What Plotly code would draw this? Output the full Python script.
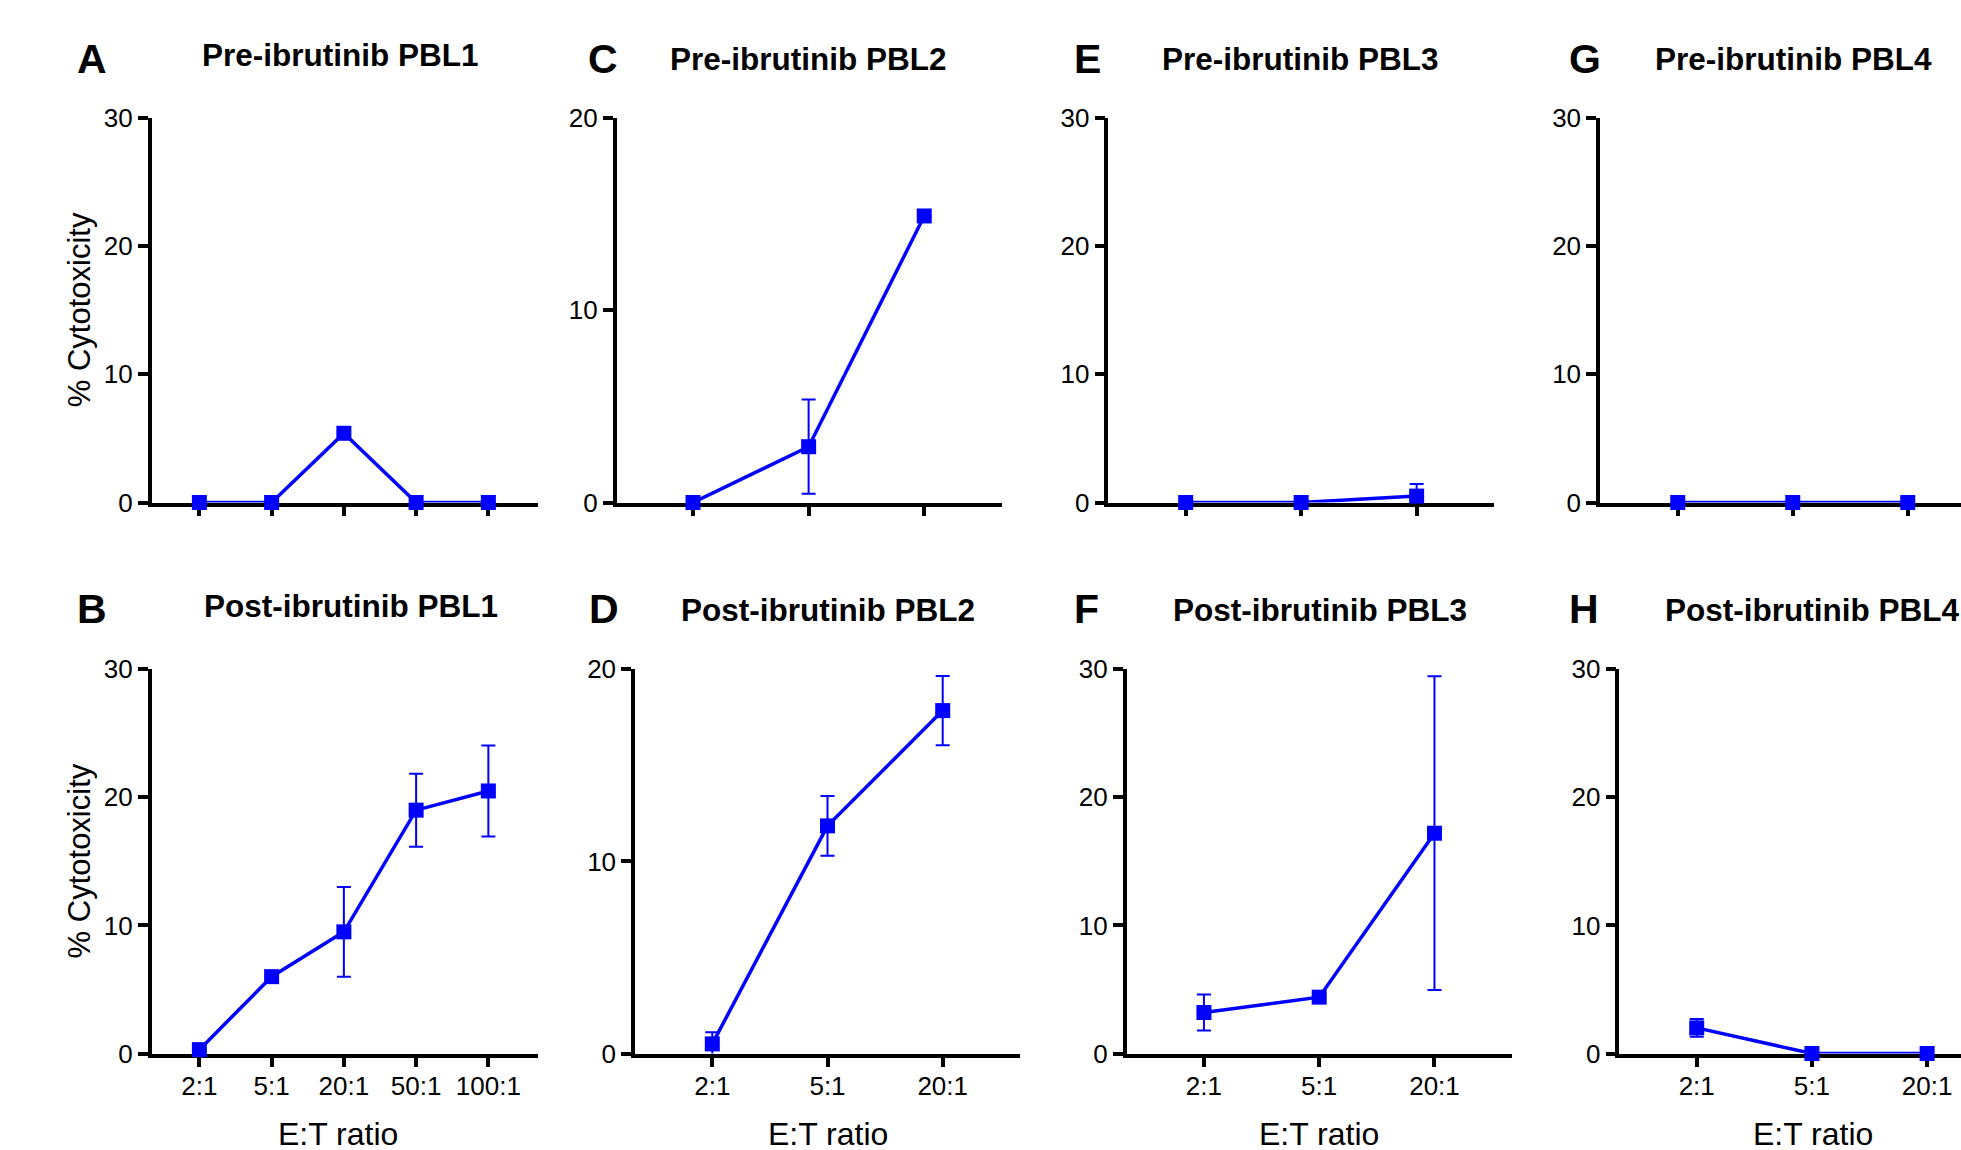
import plotly.graph_objects as go

W, H = 1961, 1150

# ---------------- data ----------------
cats5 = ["2:1", "5:1", "20:1", "50:1", "100:1"]
cats3 = ["2:1", "5:1", "20:1"]

pre_pbl1 = [0, 0, 5.4, 0, 0]
pre_pbl1_err = [0, 0, 0, 0, 0]
post_pbl1 = [0.3, 6.0, 9.5, 19.0, 20.5]
post_pbl1_err = [0, 0, 3.5, 2.85, 3.55]

pre_pbl2 = [0, 2.9, 14.9]
pre_pbl2_err = [0, 2.45, 0]
post_pbl2 = [0.5, 11.85, 17.85]
post_pbl2_err = [0.6, 1.55, 1.8]

pre_pbl3 = [0, 0, 0.5]
pre_pbl3_err = [0, 0, 0.95]
post_pbl3 = [3.2, 4.4, 17.2]
post_pbl3_err = [1.4, 0, 12.25]

pre_pbl4 = [0, 0, 0]
pre_pbl4_err = [0, 0, 0]
post_pbl4 = [2.0, 0, 0]
post_pbl4_err = [0.7, 0, 0]

panel_letters = ["A", "B", "C", "D", "E", "F", "G", "H"]
panel_titles = ["Pre-ibrutinib PBL1", "Post-ibrutinib PBL1",
                "Pre-ibrutinib PBL2", "Post-ibrutinib PBL2",
                "Pre-ibrutinib PBL3", "Post-ibrutinib PBL3",
                "Pre-ibrutinib PBL4", "Post-ibrutinib PBL4"]
y_max = [30, 30, 20, 20, 30, 30, 30, 30]
y_title = "% Cytotoxicity"
x_title = "E:T ratio"

series = [
    (cats5, pre_pbl1, pre_pbl1_err),
    (cats5, post_pbl1, post_pbl1_err),
    (cats3, pre_pbl2, pre_pbl2_err),
    (cats3, post_pbl2, post_pbl2_err),
    (cats3, pre_pbl3, pre_pbl3_err),
    (cats3, post_pbl3, post_pbl3_err),
    (cats3, pre_pbl4, pre_pbl4_err),
    (cats3, post_pbl4, post_pbl4_err),
]

# ---------------- layout geometry (pixels) ----------------
ROW_TOP = [117.9, 669.3]
ROW_BOT = [502.5, 1053.5]
# left px, right px, x-range (category units), row
geom = [
    (151.7, 537.5, [-0.66, 4.68], 0),
    (151.7, 537.5, [-0.66, 4.68], 1),
    (616.7, 1001.7, [-0.66, 2.67], 0),
    (635.0, 1020.0, [-0.671, 2.671], 1),
    (1108.3, 1494.0, [-0.67, 2.67], 0),
    (1126.7, 1511.7, [-0.67, 2.67], 1),
    (1600.0, 1961.0, [-0.676, 2.463], 0),
    (1619.3, 1961.0, [-0.672, 2.294], 1),
]
letter_pos = [(92, 59), (92, 609), (603, 59), (604, 609),
              (1087, 59), (1086, 609), (1585, 59), (1584, 609)]
title_pos = [(340, 55), (351, 606), (808.7, 59), (828.3, 610),
             (1300.5, 59), (1320, 610), (1793.3, 59), (1812, 610)]
xtitle_x = {1: 338.4, 3: 827.5, 5: 1319, 7: 1812.5}

FONT = "Liberation Sans, Arial, Helvetica, sans-serif"
BLUE = "#0000FF"

fig = go.Figure()
layout = dict(
    width=W, height=H,
    margin=dict(l=0, r=0, t=0, b=0, pad=0, autoexpand=False),
    paper_bgcolor="white", plot_bgcolor="white",
    showlegend=False,
    font=dict(family=FONT, color="black"),
)
annotations = []

for i, ((cats, vals, errs), (xl, xr, xrng, row)) in enumerate(zip(series, geom)):
    n = i + 1
    xa = "x" if n == 1 else f"x{n}"
    ya = "y" if n == 1 else f"y{n}"
    fig.add_trace(go.Scatter(
        x=cats, y=vals, xaxis=xa, yaxis=ya,
        mode="lines+markers",
        line=dict(color=BLUE, width=3.5),
        marker=dict(symbol="square", size=15, color=BLUE, line=dict(width=0)),
        error_y=dict(type="data", array=errs, visible=True,
                     color=BLUE, thickness=2, width=7),
        cliponaxis=False,
    ))
    top, bot = ROW_TOP[row], ROW_BOT[row]
    xdom = [xl / W, min(xr / W, 1.0)]
    ydom = [1 - bot / H, 1 - top / H]
    axcommon = dict(showline=True, linecolor="black", linewidth=3.5,
                    ticks="outside", ticklen=10, tickwidth=3.5, tickcolor="black",
                    showgrid=False, zeroline=False, fixedrange=True,
                    automargin=False,
                    tickfont=dict(family=FONT, size=26, color="black"),
                    layer="below traces")
    layout["xaxis" if n == 1 else f"xaxis{n}"] = dict(
        axcommon, domain=xdom, anchor=ya, type="category",
        categoryorder="array", categoryarray=cats,
        range=xrng, showticklabels=(row == 1), ticklabelstandoff=-3)
    layout["yaxis" if n == 1 else f"yaxis{n}"] = dict(
        axcommon, domain=ydom, anchor=xa, range=[0, y_max[i]],
        tickmode="linear", tick0=0, dtick=10)

    lx, ly = letter_pos[i]
    annotations.append(dict(text=f"<b>{panel_letters[i]}</b>", x=lx / W, y=1 - ly / H,
                            xref="paper", yref="paper", showarrow=False,
                            xanchor="center", yanchor="middle",
                            font=dict(family=FONT, size=41, color="black")))
    tx, ty = title_pos[i]
    annotations.append(dict(text=f"<b>{panel_titles[i]}</b>", x=tx / W, y=1 - ty / H,
                            xref="paper", yref="paper", showarrow=False,
                            xanchor="center", yanchor="middle",
                            font=dict(family=FONT, size=31.5, color="black")))
    if row == 1:
        annotations.append(dict(text=x_title, x=xtitle_x[i] / W,
                                y=1 - 1134 / H, xref="paper", yref="paper",
                                showarrow=False, xanchor="center", yanchor="middle",
                                font=dict(family=FONT, size=32, color="black")))
    if i in (0, 1):
        annotations.append(dict(text=y_title, x=79 / W, y=1 - ((top + bot) / 2) / H,
                                xref="paper", yref="paper", showarrow=False,
                                textangle=-90, xanchor="center", yanchor="middle",
                                font=dict(family=FONT, size=31, color="black")))

layout["annotations"] = annotations
fig.update_layout(**layout)
fig.write_html("out.html")
